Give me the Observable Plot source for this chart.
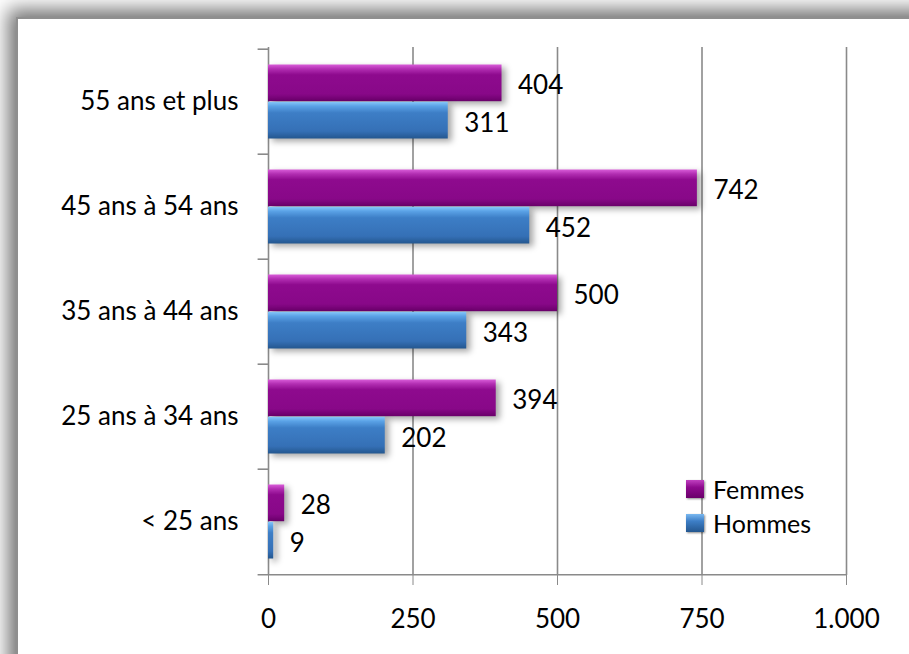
<!DOCTYPE html>
<html><head><meta charset="utf-8">
<script src="https://cdn.jsdelivr.net/npm/d3@7"></script>
<script src="https://cdn.jsdelivr.net/npm/@observablehq/plot@0.6"></script>
<style>
html,body{margin:0;padding:0;width:909px;height:654px;overflow:hidden;background:#fff;font-family:Lato,sans-serif}
#frame{position:absolute;left:16px;top:17px;width:1200px;height:1000px;background:#fff;border-left:2px solid #8f8f8f;border-top:2px solid #8f8f8f;box-shadow:0 0 18px 8px rgba(0,0,0,0.55)}
#chart{position:absolute;left:0;top:0}
#legend{position:absolute;left:686px;top:472px;font-size:25px;line-height:34px;color:#000}
#legend .item{display:flex;align-items:center;white-space:nowrap}
#legend .sw{width:18px;height:18px;margin-right:9px;box-shadow:1px 1px 2px rgba(0,0,0,0.45)}
</style></head>
<body>
<div id="frame"></div>
<div id="chart"></div>
<div id="legend"></div>
<script>
const categories = ["55 ans et plus","45 ans à 54 ans","35 ans à 44 ans","25 ans à 34 ans","< 25 ans"];
const series = ["Femmes","Hommes"];
const femmes = [404,742,500,394,28];
const hommes = [311,452,343,202,9];
const xTicks = [0,250,500,750,1000];

const rows = categories.flatMap((c,i)=>[
  {cat:c, serie:"Femmes", v:femmes[i]},
  {cat:c, serie:"Hommes", v:hommes[i]}
]);
const F = rows.filter(d=>d.serie==="Femmes");
const H = rows.filter(d=>d.serie==="Hommes");

const fr = d3.formatLocale({decimal:",", thousands:".", grouping:[3], currency:["","€"]});
const fmt = fr.format(",");

const W = 909, Hh = 654, mT = 47, mB = 79, mL = 268, mR = 63;
const bw = (Hh - mT - mB) / categories.length;
const pad = 15.5, barH = (bw - 2*pad)/2;
const grid = "#8a8a8a";

const chart = Plot.plot({
  width: W, height: Hh,
  marginTop: mT, marginBottom: mB, marginLeft: mL, marginRight: mR,
  style: {background: "transparent", fontFamily: "Lato, sans-serif", fontSize: "26px", color: "#000"},
  x: {domain: [0, 1000]},
  y: {domain: categories, padding: 0},
  marks: [
    Plot.ruleX(xTicks.slice(1), {stroke: grid, strokeWidth: 1.6}),
    Plot.ruleX([0], {stroke: grid, strokeWidth: 1.6}),
    Plot.ruleY(categories, {y: d=>d, x1: -18, x2: 0, dy: -bw/2, stroke: grid, strokeWidth: 1.6}),
    Plot.ruleY(categories.slice(-1), {y: d=>d, x1: -18, x2: 1000, dy: bw/2, stroke: grid, strokeWidth: 1.6}),
    Plot.barX(F, {y: "cat", x: "v", fill: "url(#gF)", insetTop: pad, insetBottom: pad + barH}),
    Plot.barX(H, {y: "cat", x: "v", fill: "url(#gH)", insetTop: pad + barH, insetBottom: pad}),
    Plot.text(F, {y: "cat", x: "v", text: d=>fmt(d.v), dx: 16, dy: -16, textAnchor: "start", fill: "#000", fontSize: 26}),
    Plot.text(H, {y: "cat", x: "v", text: d=>fmt(d.v), dx: 16, dy: 22, textAnchor: "start", fill: "#000", fontSize: 26}),
    Plot.axisX({ticks: xTicks, tickFormat: fmt, tickSize: 10, tickPadding: 24, stroke: grid, fill: "#000", fontSize: 26, label: null}),
    Plot.axisY({tickSize: 0, tickPadding: 30, fill: "#000", fontSize: 26, label: null})
  ]
});

const svg = d3.select(chart);
const defs = svg.insert("defs", ":first-child");
function grad(id, stops){
  const g = defs.append("linearGradient").attr("id", id).attr("x1",0).attr("y1",0).attr("x2",0).attr("y2",1);
  stops.forEach(([o,c])=>g.append("stop").attr("offset",o).attr("stop-color",c));
}
grad("gF", [[0,"#d95cd9"],[0.12,"#b22eb2"],[0.28,"#8e0a8e"],[0.8,"#880888"],[1,"#6a006a"]]);
grad("gH", [[0,"#86c8fa"],[0.12,"#5aa2e6"],[0.3,"#3d7ec6"],[0.8,"#3570b6"],[1,"#24578f"]]);
svg.selectAll("g[aria-label='bar']").style("filter", "drop-shadow(4px 3px 3px rgba(0,0,0,0.35))");
document.getElementById("chart").appendChild(chart);

const legendColors = {Femmes: "linear-gradient(#c040c0, #8e0a8e 40%, #6a006a)", Hommes: "linear-gradient(#7ab8f0, #3d7ec6 40%, #24578f)"};
const lg = d3.select("#legend");
series.forEach(s=>{
  const it = lg.append("div").attr("class","item");
  it.append("div").attr("class","sw").style("background", legendColors[s]);
  it.append("span").text(s);
});
</script>
</body></html>
